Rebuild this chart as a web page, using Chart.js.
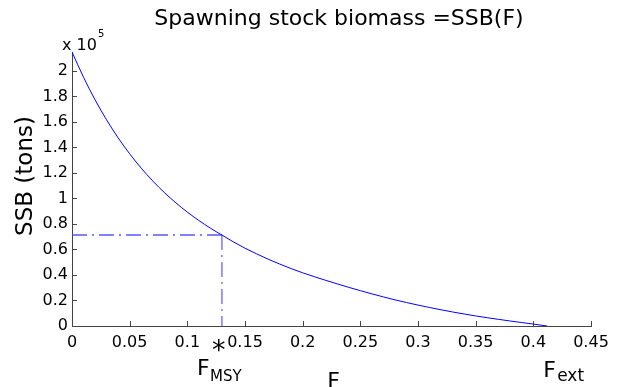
<!DOCTYPE html>
<html>
<head>
<meta charset="utf-8">
<script src="https://cdn.jsdelivr.net/npm/chart.js@4/dist/chart.umd.min.js"></script>
<style>
html,body{margin:0;padding:0;background:#fff;}
canvas{display:block;}
</style>
</head>
<body>
<canvas id="c" width="621" height="387"></canvas>
<script>
// Fishing mortality F and spawning stock biomass SSB (in units of 10^5 tons)
const fValues   = [0, 0.01, 0.02, 0.03, 0.04, 0.05, 0.06, 0.07, 0.08, 0.09, 0.10, 0.11, 0.12, 0.13, 0.14, 0.15, 0.16, 0.17, 0.18, 0.19, 0.20, 0.21, 0.22, 0.23, 0.24, 0.25, 0.26, 0.27, 0.28, 0.29, 0.30, 0.31, 0.32, 0.33, 0.34, 0.35, 0.36, 0.37, 0.38, 0.39, 0.40, 0.412];
const ssbValues = [2.148, 1.950, 1.773, 1.616, 1.475, 1.350, 1.238, 1.137, 1.047, 0.966, 0.893, 0.827, 0.767, 0.713, 0.659, 0.610, 0.566, 0.524, 0.486, 0.450, 0.417, 0.387, 0.358, 0.330, 0.303, 0.277, 0.252, 0.228, 0.205, 0.184, 0.164, 0.145, 0.127, 0.110, 0.094, 0.079, 0.065, 0.052, 0.039, 0.027, 0.015, 0];
const fMsy = 0.13;
const ssbMsy = 0.714;
const fExt = 0.412;
const xTickValues = [0, 0.05, 0.1, 0.15, 0.2, 0.25, 0.3, 0.35, 0.4, 0.45];
const yTickValues = [0, 0.2, 0.4, 0.6, 0.8, 1, 1.2, 1.4, 1.6, 1.8, 2];
const titleText = 'Spawning stock biomass =SSB(F)';
const yLabelText = 'SSB (tons)';
const xLabelText = 'F';

const FONT = '"DejaVu Sans", Verdana, sans-serif';
const AXIS = '#444444';

const curve = fValues.map((f, i) => ({x: f, y: ssbValues[i]}));
const hLine = [{x: 0, y: ssbMsy}, {x: fMsy, y: ssbMsy}];
const vLine = [{x: fMsy, y: ssbMsy}, {x: fMsy, y: 0}];

const overlay = {
  id: 'overlay',
  afterDatasetsDraw(chart) {
    const ctx = chart.ctx;
    const xs = chart.scales.x, ys = chart.scales.y;
    const a = chart.chartArea;
    ctx.save();
    // inward ticks
    ctx.strokeStyle = AXIS;
    ctx.lineWidth = 1;
    ctx.beginPath();
    xTickValues.forEach(v => {
      const px = Math.round(xs.getPixelForValue(v)) + 0.5;
      ctx.moveTo(px, a.bottom);
      ctx.lineTo(px, a.bottom - 5);
    });
    yTickValues.forEach(v => {
      const py = Math.round(ys.getPixelForValue(v)) + 0.5;
      ctx.moveTo(a.left, py);
      ctx.lineTo(a.left + 5, py);
    });
    ctx.stroke();
    ctx.restore();
  },
  afterDraw(chart) {
    const ctx = chart.ctx;
    const xs = chart.scales.x;
    const a = chart.chartArea;
    ctx.save();
    ctx.fillStyle = '#000';
    ctx.textBaseline = 'alphabetic';
    // title
    ctx.font = '22px ' + FONT;
    ctx.textAlign = 'center';
    ctx.fillText(titleText, 339, 25);
    // x 10^5
    ctx.textAlign = 'left';
    ctx.font = '16px ' + FONT;
    ctx.fillText('x 10', 62, 50);
    ctx.font = '10px ' + FONT;
    ctx.fillText('5', 98, 37);
    // y label
    ctx.save();
    ctx.translate(32, 176);
    ctx.rotate(-Math.PI / 2);
    ctx.textAlign = 'center';
    ctx.font = '23px ' + FONT;
    ctx.fillText(yLabelText, 0, 0);
    ctx.restore();
    // x label
    ctx.textAlign = 'center';
    ctx.font = '22px ' + FONT;
    ctx.fillText(xLabelText, (a.left + a.right) / 2 + 2, 388);
    // F_MSY*
    const pm = xs.getPixelForValue(fMsy);
    ctx.textAlign = 'left';
    ctx.font = '22px ' + FONT;
    ctx.fillText('F', pm - 25, 375);
    ctx.font = '15px ' + FONT;
    ctx.fillText('MSY', pm - 12, 381);
    ctx.font = '27px ' + FONT;
    ctx.fillText('*', pm - 10, 359);
    // F_ext
    const pe = xs.getPixelForValue(fExt);
    ctx.font = '22px ' + FONT;
    ctx.fillText('F', pe - 4, 377);
    ctx.font = '17px ' + FONT;
    ctx.fillText('ext', pe + 10, 381);
    ctx.restore();
  }
};

new Chart(document.getElementById('c'), {
  type: 'line',
  data: {
    datasets: [
      {data: curve, borderColor: '#0000ff', borderWidth: 1, pointRadius: 0, cubicInterpolationMode: 'monotone', fill: false},
      {data: hLine, borderColor: 'rgba(70,70,255,0.9)', borderWidth: 1.5, borderDash: [15, 5, 2, 5], pointRadius: 0, fill: false},
      {data: vLine, borderColor: 'rgba(70,70,255,0.9)', borderWidth: 1.2, borderDash: [15, 5, 2, 5], pointRadius: 0, fill: false}
    ]
  },
  options: {
    responsive: false,
    animation: false,
    layout: {padding: {left: 0, right: 30, top: 52, bottom: 0}},
    plugins: {legend: {display: false}, tooltip: {enabled: false}, title: {display: false}},
    scales: {
      x: {
        type: 'linear', min: 0, max: 0.45,
        afterFit(s) { s.height = 61; },
        afterBuildTicks(s) { s.ticks = xTickValues.map(v => ({value: v})); },
        grid: {display: false, drawTicks: false},
        border: {display: true, color: AXIS, width: 1},
        ticks: {padding: 7, color: '#000', font: {family: FONT, size: 16}, maxRotation: 0, autoSkip: false,
          callback: v => String(+v.toFixed(2))}
      },
      y: {
        type: 'linear', min: 0, max: 2.148,
        afterFit(s) { s.width = 72; },
        afterBuildTicks(s) { s.ticks = yTickValues.map(v => ({value: v})); },
        grid: {display: false, drawTicks: false},
        border: {display: true, color: AXIS, width: 1},
        ticks: {padding: 4, color: '#000', font: {family: FONT, size: 16}, autoSkip: false,
          callback: v => String(+v.toFixed(1))}
      }
    }
  },
  plugins: [overlay]
});
</script>
</body>
</html>
